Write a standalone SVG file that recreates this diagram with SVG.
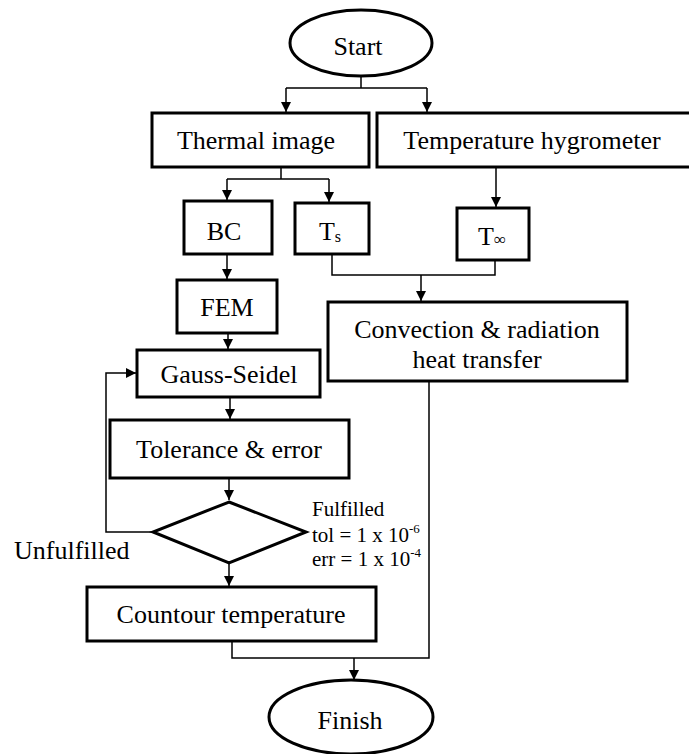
<svg xmlns="http://www.w3.org/2000/svg" width="689" height="754" viewBox="0 0 689 754">
<defs>
<marker id="arr" markerUnits="userSpaceOnUse" markerWidth="10" markerHeight="11" refX="10" refY="5" orient="auto">
<path d="M0,0 L10,5 L0,10 z" fill="#000"/>
</marker>
<style>
.box{fill:#fff;stroke:#000;stroke-width:3}
.ln{fill:none;stroke:#000;stroke-width:1.5}
.ar{fill:none;stroke:#000;stroke-width:1.5;marker-end:url(#arr)}
.t{font-family:"Liberation Serif","Times New Roman",serif;font-size:26px;fill:#000;text-anchor:middle}
.s{font-family:"Liberation Serif","Times New Roman",serif;font-size:21px;fill:#000}
.u{font-family:"Liberation Serif","Times New Roman",serif;font-size:26px;fill:#000}
.sup{font-size:13px}
</style>
</defs>
<rect width="689" height="754" fill="#fff"/>
<g id="connectors">
<path class="ln" d="M361,76 V88 M286,88 H427"/>
<path class="ar" d="M286,88 V112"/>
<path class="ar" d="M427,88 V112"/>
<path class="ln" d="M281,167 V179 M227,179 H329"/>
<path class="ar" d="M227,179 V200"/>
<path class="ar" d="M329,179 V202"/>
<path class="ar" d="M496,167 V207"/>
<path class="ln" d="M332,254 V275 H495 V260"/>
<path class="ar" d="M421,275 V301"/>
<path class="ar" d="M227,254 V279"/>
<path class="ar" d="M228,333 V349"/>
<path class="ar" d="M230,397 V419"/>
<path class="ar" d="M229,478 V500"/>
<path class="ar" d="M229,563 V586"/>
<path class="ar" d="M153,532 H106 V373 H136"/>
<path class="ln" d="M232,641 V658 H429 V381"/>
<path class="ar" d="M354,658 V680"/>
</g>
<g id="start">
<ellipse class="box" cx="361" cy="43" rx="71" ry="33"/>
<text class="t" x="358" y="55">Start</text>
</g>
<g id="thermal">
<rect class="box" x="152" y="113" width="217" height="54"/>
<text class="t" x="256" y="149">Thermal image</text>
</g>
<g id="hygrometer">
<rect class="box" x="377" y="113" width="330" height="54"/>
<text class="t" x="532" y="149">Temperature hygrometer</text>
</g>
<g id="bc">
<rect class="box" x="184" y="201" width="88" height="53"/>
<text class="t" x="224" y="240">BC</text>
</g>
<g id="ts">
<rect class="box" x="295" y="203" width="74" height="51"/>
<text class="t" x="330" y="240">T<tspan style="font-size:16px" dy="2">s</tspan></text>
</g>
<g id="tinf">
<rect class="box" x="457" y="208" width="72" height="52"/>
<text class="t" x="492" y="245">T<tspan style="font-size:17px">∞</tspan></text>
</g>
<g id="convection">
<rect class="box" x="328" y="302" width="299" height="79"/>
<text class="t" x="477" y="338">Convection &amp; radiation</text>
<text class="t" x="477" y="368">heat transfer</text>
</g>
<g id="fem">
<rect class="box" x="177" y="280" width="100" height="53"/>
<text class="t" x="227" y="316">FEM</text>
</g>
<g id="gauss">
<rect class="box" x="137" y="350" width="183" height="47"/>
<text class="t" x="229" y="383">Gauss-Seidel</text>
</g>
<g id="tolerance">
<rect class="box" x="110" y="420" width="239" height="58"/>
<text class="t" x="229" y="458">Tolerance &amp; error</text>
</g>
<g id="decision">
<polygon class="box" points="229,502 306,532 229,563 153,532"/>
</g>
<g id="labels">
<text class="u" x="14" y="559">Unfulfilled</text>
<text class="s" x="312" y="516">Fulfilled</text>
<text class="s" x="312" y="542">tol = 1 x 10<tspan class="sup" dy="-9">-6</tspan></text>
<text class="s" x="312" y="566">err = 1 x 10<tspan class="sup" dy="-9">-4</tspan></text>
</g>
<g id="contour">
<rect class="box" x="87" y="587" width="289" height="54"/>
<text class="t" x="231" y="623">Countour temperature</text>
</g>
<g id="finish">
<ellipse class="box" cx="351" cy="717" rx="82" ry="37"/>
<text class="t" x="350" y="729">Finish</text>
</g>
</svg>
